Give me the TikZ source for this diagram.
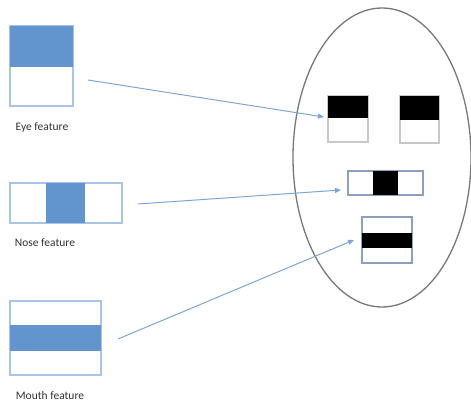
\documentclass[tikz,border=0pt]{standalone}
\usepackage{fontspec}
\setmainfont{Carlito}
\usetikzlibrary{arrows.meta}
\definecolor{featblue}{RGB}{98,148,206}
\definecolor{featedge}{RGB}{170,196,232}
\definecolor{arrowblue}{RGB}{125,166,216}
\definecolor{faceedge}{RGB}{120,120,120}
\definecolor{eyeedge}{RGB}{200,200,200}
\definecolor{boxedge}{RGB}{140,160,190}
\definecolor{labelc}{RGB}{50,50,50}
\tikzset{
  feat/.style={draw=featedge, line width=1.2pt, fill=white, inner sep=0pt},
  facebox/.style={draw=boxedge, line width=1.2pt, fill=white, inner sep=0pt},
  eyebox/.style={draw=eyeedge, line width=1.2pt, fill=white, inner sep=0pt},
  lbl/.style={text=labelc, font=\fontsize{11.5}{13}\selectfont, inner sep=0pt},
  conn/.style={draw=arrowblue, line width=1pt, -{Triangle[length=6pt,width=5pt]}},
}
\begin{document}
\begin{tikzpicture}[x=1pt,y=-1pt]
\useasboundingbox (0,0) rectangle (471,406);
% face
\draw[faceedge, line width=1.3pt] (382,157.5) ellipse [x radius=89, y radius=149.5];
% eye feature
\node[feat, minimum width=63pt, minimum height=80pt] (eyef) at (41.5,66) {};
\fill[featblue] (10,26) rectangle (73,67);
\draw[featedge, line width=1.2pt] (eyef.north west) rectangle (eyef.south east);
\node[lbl] (eyel) at (42,127) {Eye feature};
% nose feature
\node[feat, minimum width=112pt, minimum height=40pt] (nosef) at (66,203) {};
\fill[featblue] (46,183) rectangle (85,223);
\draw[featedge, line width=1.2pt] (nosef.north west) rectangle (nosef.south east);
\node[lbl] (nosel) at (45,243) {Nose feature};
% mouth feature
\node[feat, minimum width=91pt, minimum height=74pt] (mouthf) at (55.5,338) {};
\fill[featblue] (10,325) rectangle (101,351);
\draw[featedge, line width=1.2pt] (mouthf.north west) rectangle (mouthf.south east);
\node[lbl] (mouthl) at (50,396) {Mouth feature};
% face boxes
\node[eyebox, minimum width=40pt, minimum height=46pt] (leye) at (348,119) {};
\fill[black] (328,96) rectangle (368,118);
\node[eyebox, minimum width=39pt, minimum height=47pt] (reye) at (419.5,119.5) {};
\fill[black] (400,96) rectangle (439,120);
\node[facebox, minimum width=75pt, minimum height=24pt] (nosebox) at (385.5,183) {};
\fill[black] (373,171) rectangle (398,195);
\node[facebox, minimum width=50pt, minimum height=46pt] (mouthbox) at (387,240) {};
\fill[black] (362,233) rectangle (412,248);
% connectors
\coordinate (eyeS) at (88,80);
\coordinate (eyeT) at (324,117);
\coordinate (noseS) at (138,204);
\coordinate (noseT) at (341,190);
\coordinate (mouthS) at (118,339);
\coordinate (mouthT) at (354,240);
\draw[conn] (eyeS) -- (eyeT);
\draw[conn] (noseS) -- (noseT);
\draw[conn] (mouthS) -- (mouthT);
\end{tikzpicture}
\end{document}
